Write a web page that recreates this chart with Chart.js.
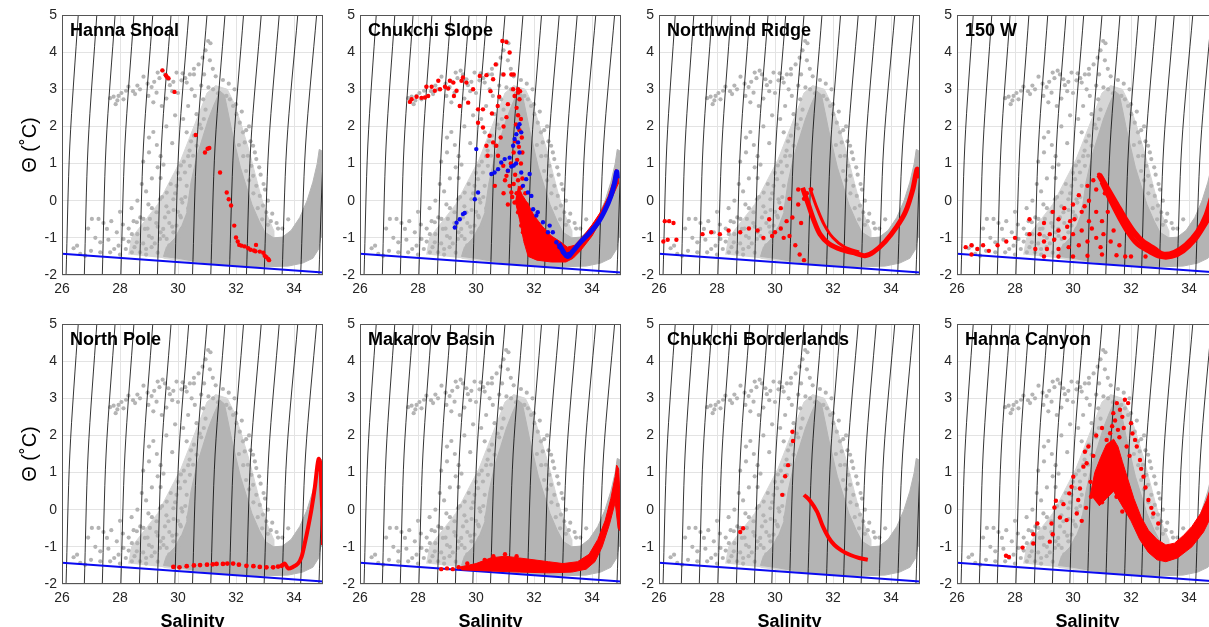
<!DOCTYPE html>
<html>
<head>
<meta charset="utf-8">
<script src="https://cdn.jsdelivr.net/npm/chart.js@4.4.0/dist/chart.umd.min.js"></script>
<style>
  body { margin: 0; width: 1209px; height: 627px; overflow: hidden; background: #fff; position: relative; font-family: "Liberation Sans", Arial, sans-serif; }
  canvas { position: absolute; }
  .ttl { position: absolute; font-weight: bold; font-size: 18px; color: #000; white-space: nowrap; }
</style>
</head>
<body>
<script>
// --- axes ---
const salTicks = [26, 28, 30, 32, 34];
const thetaTicks = [-2, -1, 0, 1, 2, 3, 4, 5];

// --- isopycnals: salinity where each line meets theta = -2, 1.5 and 5 ---
const isoSalBottom = [26.14, 26.77, 27.39, 28.03, 28.67, 29.29, 29.89, 30.50, 31.13, 31.77, 32.36, 32.97, 33.59, 34.23, 34.86];
const isoSalMid    = [26.27, 26.90, 27.52, 28.17, 28.81, 29.43, 30.03, 30.65, 31.28, 31.92, 32.51, 33.13, 33.75, 34.40, 35.03];
const isoSalTop    = [26.56, 27.20, 27.83, 28.48, 29.13, 29.76, 30.37, 31.00, 31.62, 32.26, 32.87, 33.49, 34.13, 34.78, 35.42];

// --- freezing line ---
const freezeSal = [26, 35];
const freezeTheta = [-1.43, -1.93];

// --- all profiles (grey, same in every panel) ---
// loosely covered part of the cloud
const grayHaze = [[28.3,-1.45],[28.4,-1.0],[28.8,-0.6],[29.3,-0.1],[29.7,0.5],[30.1,1.1],[30.4,1.7],[30.7,2.3],[31.0,2.9],[31.3,3.1],[31.7,3.0],[31.95,2.6],[32.2,2.0],[32.45,1.35],[32.65,0.75],[32.85,0.15],[33.05,-0.35],[33.3,-0.8],[33.3,-1.7],[31.0,-1.7],[29.5,-1.55]];
// solid part of the cloud
const grayCore = [[30.3,-0.3],[30.45,0.5],[30.65,1.2],[30.85,1.7],[31.05,2.2],[31.25,2.6],[31.45,2.95],[31.6,2.85],[31.72,2.4],[31.85,1.9],[32.0,1.4],[32.15,0.9],[32.35,0.4],[32.55,-0.1],[32.8,-0.55],[33.0,-0.85],[33.3,-1.0],[33.6,-0.98],[33.9,-0.8],[34.2,-0.45],[34.45,0.0],[34.65,0.5],[34.8,1.0],[34.87,1.38],[34.95,1.35],[35.0,1.1],[35.0,-0.95],[34.92,-1.0],[34.85,-1.3],[34.65,-1.55],[34.3,-1.68],[33.8,-1.76],[33.0,-1.78],[32.0,-1.75],[31.2,-1.7],[30.5,-1.62],[30.0,-1.55],[29.5,-1.5],[29.6,-1.25],[29.9,-1.0],[30.1,-0.7]];
const graySparse = [[31.04,4.30],[31.12,4.24],[31.10,3.78],[30.71,3.67],[30.41,3.40],[30.16,3.43],[30.12,3.24],[29.72,3.11],[29.47,3.50],[29.36,3.30],[29.18,3.20],[29.09,3.06],[29.26,2.91],[29.44,2.55],[28.98,2.82],[28.69,3.00],[28.52,2.87],[28.29,3.07],[28.21,2.96],[27.95,2.82],[27.78,2.80],[27.66,2.76],[27.91,2.70],[28.12,2.73],[28.81,3.34],[29.67,3.27],[29.84,3.20],[30.30,3.18],[30.47,3.00],[30.58,2.82],[30.35,2.55],[30.18,2.20],[30.30,1.84],[30.64,2.33],[30.89,2.20],[30.87,2.73],[31.21,3.00],[31.38,2.89],[31.67,2.82],[31.79,2.73],[31.90,2.55],[32.01,2.33],[32.13,2.10],[32.24,1.84],[32.30,1.57],[32.41,1.21],[32.53,0.94],[32.59,0.67],[32.70,0.40],[32.82,0.13],[32.93,-0.13],[33.04,-0.31],[32.70,1.12],[32.59,1.48],[29.60,2.00],[29.27,1.50],[29.50,0.97],[29.40,0.61],[28.90,0.25],[28.98,-0.10],[28.47,-0.55],[28.10,-0.64],
  [26.52,-1.21],[26.40,-1.28],[27.03,-0.49],[27.26,-0.49],[27.43,-0.60],[27.15,-1.00],[27.32,-1.12],[27.55,-0.76],[27.89,-0.85],[28.12,-1.03],[27.95,-1.21],[28.41,-0.90],[28.58,-1.12],[28.86,-0.76],[29.03,-0.49],[29.26,-0.31],[28.81,-0.49],[28.58,-0.58],[29.49,-0.76],[29.38,-1.03],[29.09,-1.25],[29.61,-1.39],[29.84,-1.21],[29.61,-1.03],[29.84,-0.85],[29.95,-0.67],[30.07,-0.40],[29.67,-0.31],[29.38,0.04],[29.61,0.22],[29.84,0.04],[29.95,0.40],[30.12,0.04],[30.30,0.40],[30.24,0.76],[30.41,0.94],[30.52,1.21],[30.64,1.48],[30.07,0.58],[27.66,-1.39],[27.32,-1.39],[26.80,-1.48],[26.63,-1.43],[28.69,-1.39],[28.41,-1.39],
  [28.90,-1.30],[29.20,-1.15],[29.50,-0.95],[29.80,-0.70],[30.10,-0.45],[30.35,-0.20],[28.60,-0.90],[28.95,-0.75],[29.25,-0.60],[29.55,-0.45],[29.85,-0.25],[30.15,-0.05],[30.45,1.60],[30.80,1.95],[30.95,2.45],[31.05,3.05],[30.90,3.40],[28.80,1.05],[29.00,1.30],[29.15,1.85],[32.85,0.70],[33.00,0.30],[33.20,-0.55],[33.45,-0.75],[33.10,-0.65],
  [28.2,-1.3],[28.5,-1.25],[28.8,-1.15],[29.1,-1.0],[29.4,-0.85],[29.7,-0.6],[30.0,-0.3],[30.25,0.1],[28.3,-0.75],[28.7,-0.45],[29.1,-0.2],[29.45,0.1],[29.75,0.45],[30.0,0.75],[30.2,1.05],[30.4,1.35],[28.9,-1.45],[29.3,-1.4],[29.7,-1.2],[30.0,-1.0],[30.2,-0.7],[29.0,-0.95],[29.3,-0.7],[29.6,-0.15],[29.9,0.2],[30.1,0.95],[30.35,1.2],[30.55,1.75],[30.75,2.05],
  [27.8,-1.3],[28.0,-1.45],[28.3,-1.1],[27.6,-1.05],[27.0,-1.35],[26.9,-0.75],[27.7,-0.55],[28.0,-0.3],[28.4,-0.2],[28.6,0.0],[28.75,0.45],[29.1,0.6],[29.3,0.9],[29.0,1.7],[29.4,1.2],[29.8,1.55],[29.9,2.3],[29.6,2.75],[30.0,2.9],[30.55,3.4],[30.8,3.1],
  [32.0,2.6],[32.1,1.5],[32.25,1.2],[32.35,0.8],[32.45,0.55],[32.6,0.2],[32.75,-0.2],[32.9,-0.5],[32.2,2.4],[32.35,1.9],[32.5,1.6],[32.65,1.3],[32.8,0.9],[32.95,0.45],[33.1,0.0],[33.25,-0.35],[33.4,-0.6],[33.6,-0.75],[33.8,-0.5],[32.45,2.0],[31.95,3.0],[31.75,3.15],[31.55,3.25],[31.3,3.35],[31.2,3.55],
  [30.95,4.05],[30.85,3.85],[30.55,3.55],[30.25,3.3],[29.95,3.45],[29.55,3.4],[29.3,3.45],[28.95,3.15],[28.6,3.1],[28.45,2.95],[28.05,2.9],[27.85,2.6],[29.15,2.65],[29.8,2.95]];

// --- Hanna Shoal ---
const hannaShoalRed = [[29.46,3.51],[29.58,3.38],[29.61,3.34],[29.67,3.30],[29.88,2.93],[30.61,1.77],[30.93,1.30],[31.02,1.40],[31.08,1.42],[31.45,0.76],[31.68,0.22],[31.75,0.04],[31.83,-0.13],[31.94,-0.67],[32.00,-0.99],[32.06,-1.10],[32.11,-1.19],[32.19,-1.21],[32.30,-1.23],[32.42,-1.28],[32.50,-1.32],[32.62,-1.34],[32.67,-1.36],[32.69,-1.19],[32.82,-1.37],[32.94,-1.40],[32.99,-1.48],[33.05,-1.52],[33.11,-1.57],[33.14,-1.60]];

// --- Chukchi Slope ---
const chukchiSlopeRed = [[27.72,2.66],[27.78,2.73],[27.95,2.80],[28.12,2.77],[28.24,2.78],[28.35,2.82],[28.29,3.07],[28.47,3.07],[28.58,2.96],[28.70,3.23],[28.76,3.00],[28.93,3.07],[29.04,3.02],[29.10,3.23],[29.22,3.18],[29.24,2.82],[29.33,2.96],[29.44,2.55],[29.50,3.23],[29.55,3.32],[29.67,3.18],[29.73,2.64],[29.90,3.00],[30.13,3.36],[30.36,3.38],[30.59,3.27],[30.68,3.67],[30.91,4.30],[31.05,4.27],[31.16,3.99],[31.22,3.40],[31.28,3.00],[31.33,2.82],[31.45,2.91],[31.50,2.73],[30.07,2.46],[30.24,2.46],[30.07,2.10],[30.24,1.97],[30.47,1.75],[30.59,1.57],[30.70,1.48],[30.76,1.21],[30.36,1.48],[30.40,1.21],[30.94,0.94],[31.05,0.67],[31.16,0.40],[31.22,0.22],[31.33,-0.05],[31.45,-0.31],[31.56,-0.67],[31.62,-0.85],[31.73,-1.12],[31.85,-1.39],
  [31.40,2.50],[31.45,2.30],[31.55,2.20],[31.38,2.05],[31.50,1.90],[31.58,1.70],[31.35,1.60],[31.48,1.45],[31.60,1.30],[31.30,1.30],[31.42,1.10],[31.55,1.00],[31.20,1.00],[31.10,0.80],[31.35,0.70],[31.00,0.55],[30.85,1.70],[30.95,2.00],[31.10,2.60],[30.80,2.80],[30.95,3.40],[31.30,3.40],[31.45,3.00],[31.52,2.95],[30.50,2.95],[30.75,2.55],[30.55,2.35],[31.05,2.25],[30.65,0.40],[30.95,0.20],[31.10,-0.10],
  [31.45,0.55],[31.55,0.35],[31.3,0.45],[31.25,0.1],[31.4,0.2],[31.6,0.6],[31.7,0.2],[31.75,-0.1]];
const chukchiSlopeRedBand = [[31.45,0.4],[31.6,0.15],[31.8,-0.1],[32.0,-0.4],[32.3,-0.7],[32.6,-0.95],[32.9,-1.1],[33.15,-1.25],[33.4,-1.2],[33.7,-0.95],[34.0,-0.65],[34.3,-0.3],[34.55,0.1],[34.72,0.5],[34.82,0.85],[34.9,0.75],[34.9,0.45],[34.7,0.1],[34.4,-0.4],[34.0,-0.95],[33.6,-1.35],[33.35,-1.55],[33.1,-1.65],[32.6,-1.65],[32.1,-1.6],[31.8,-1.5],[31.65,-1.1],[31.5,-0.5],[31.35,0.0]];
const chukchiSlopeBlue = [[29.27,-0.72],[29.33,-0.59],[29.44,-0.50],[29.55,-0.36],[29.61,-0.33],[29.96,0.04],[30.07,0.22],[30.01,1.39],[30.53,0.72],[30.64,0.76],[30.76,0.85],[30.87,1.03],[30.99,1.12],[31.10,0.81],[31.16,1.16],[31.28,1.48],[31.33,1.66],[31.39,1.79],[31.45,1.97],[31.50,2.06],[31.45,1.57],[31.56,1.84],[31.50,1.30],[31.56,0.76],[31.62,0.40],[31.73,0.58],[31.79,0.22],[31.85,0.72],[31.91,0.13],[31.97,-0.23],[32.08,-0.40],[32.13,-0.31],[32.31,-0.58],[32.48,-0.85],[32.54,-0.67],[32.65,-0.85],[32.77,-1.12],[32.88,-1.25],[33.00,-1.39],[33.11,-1.48],[33.20,-1.43],[31.38,1.00],[31.30,0.95],[31.22,0.92]];
const chukchiSlopeBlueLine = [[32.85,-1.15],[33.05,-1.42],[33.18,-1.5],[33.35,-1.35],[33.6,-1.12],[33.9,-0.88],[34.2,-0.6],[34.45,-0.25],[34.65,0.12],[34.78,0.48],[34.85,0.78],[34.87,0.6]];

// --- Northwind Ridge ---
const northwindRed = [[26.2,-0.55],[26.35,-0.55],[26.5,-0.6],[26.15,-1.1],[26.3,-1.05],[26.6,-1.05],[27.5,-0.9],[27.8,-0.85],[28.1,-0.9],[28.4,-0.8],[28.8,-0.85],[29.1,-0.75],[29.4,-0.8],[29.8,-0.5],[30.2,-0.2],[30.5,0.05],[30.8,0.3],[29.6,-1.0],[30.0,-0.85],[30.4,-0.55],[30.8,-0.1],[31.1,0.2],[30.2,-0.75],[30.5,-0.95],[30.7,-1.2],[30.85,-1.45],[31.0,-1.6],[29.9,-0.95],[30.6,-0.45],[31.0,0.05],[31.25,0.3],[30.3,-1.0],[30.9,-0.6]];
const northwindRedLine = [[30.95,0.35],[31.15,-0.1],[31.35,-0.55],[31.55,-0.9],[31.85,-1.15],[32.3,-1.32],[32.8,-1.42],[33.1,-1.48],[33.4,-1.38],[33.8,-1.1],[34.2,-0.7],[34.5,-0.3],[34.75,0.3],[34.9,0.85],[34.95,0.6]];
const northwindRedLine2 = [[31.2,0.35],[31.45,-0.2],[31.7,-0.65],[32.0,-1.0],[32.4,-1.25],[32.9,-1.38]];

// --- 150 W ---
const w150Red = [[26.3,-1.25],[26.5,-1.2],[26.7,-1.3],[26.9,-1.2],[27.1,-1.35],[26.5,-1.45],[27.4,-1.2],[27.7,-1.1],[28.0,-1.0],
  [28.5,-0.5],[29.0,-0.6],[29.5,-0.5],[30.0,-0.1],[30.5,0.4],[30.9,0.7],
  [28.5,-0.9],[28.85,-0.9],[29.2,-0.9],[29.5,-0.8],[29.8,-0.7],[30.05,-0.5],[30.3,-0.3],[30.55,0.0],[30.8,0.3],
  [29.0,-1.1],[29.35,-1.05],[29.7,-1.0],[30.0,-0.9],[30.3,-0.8],[30.55,-0.55],[30.8,-0.3],[31.1,0.2],
  [28.7,-1.3],[29.1,-1.3],[29.5,-1.3],[29.85,-1.25],[30.2,-1.2],[30.5,-1.1],[30.8,-1.0],
  [29.0,-1.5],[29.5,-1.5],[30.0,-1.5],[30.5,-1.48],[31.0,-1.45],[31.5,-1.47],[32.0,-1.5],[32.5,-1.5],
  [29.3,-0.3],[29.7,-0.2],[30.2,0.15],[30.7,0.55],[31.0,0.6],[31.2,-0.3],[31.4,-0.8],[31.6,-1.2],[31.8,-1.5],
  [29.9,-0.55],[30.4,-0.15],[30.65,-0.75],[31.0,-0.55],[31.05,-0.9],[30.95,-1.25],[31.3,-1.1]];
const w150RedLine = [[30.9,0.7],[31.2,0.3],[31.5,-0.1],[31.8,-0.5],[32.1,-0.85],[32.4,-1.1],[32.8,-1.3],[33.1,-1.45],[33.5,-1.4],[33.9,-1.2],[34.3,-0.85],[34.6,-0.4],[34.8,0.1]];
const w150RedLine2 = [[31.0,0.5],[31.3,0.0],[31.6,-0.45],[31.9,-0.85],[32.2,-1.15],[32.6,-1.35],[33.0,-1.5],[33.4,-1.5],[33.8,-1.35],[34.2,-1.05],[34.5,-0.7],[34.8,-0.3]];

// --- North Pole ---
const northPoleRed = [[29.84,-1.54],[30.05,-1.55],[30.3,-1.52],[30.55,-1.5],[30.76,-1.49],[31.0,-1.48],[31.2,-1.47],[31.33,-1.46],[31.55,-1.46],[31.7,-1.45],[31.9,-1.45],[32.1,-1.48],[32.36,-1.51],[32.6,-1.52],[32.82,-1.54],[33.05,-1.55],[33.28,-1.55],[33.45,-1.53],[33.57,-1.51]];
const northPoleRedLine = [[33.57,-1.51],[33.68,-1.45],[33.8,-1.58],[33.97,-1.54],[34.14,-1.45],[34.26,-1.27],[34.37,-0.91],[34.49,-0.46],[34.6,0.0],[34.72,0.61],[34.8,1.15],[34.85,1.37],[34.91,1.24],[34.94,0.61],[34.98,-0.19],[35.0,-0.95]];

// --- Makarov Basin ---
const makarovRed = [[28.8,-1.6],[29.0,-1.58],[29.2,-1.6],[29.4,-1.55],[30.3,-1.35],[30.6,-1.25],[31.0,-1.2],[31.4,-1.25],[29.7,-1.45]];
const makarovRedBand = [[29.4,-1.55],[30.0,-1.45],[30.5,-1.3],[31.0,-1.25],[31.5,-1.3],[32.0,-1.35],[32.5,-1.4],[33.0,-1.45],[33.5,-1.4],[33.9,-1.2],[34.2,-0.8],[34.45,-0.3],[34.65,0.3],[34.8,0.9],[34.85,1.2],[34.92,1.1],[35.0,-0.3],[35.0,-0.6],[34.9,-0.5],[34.8,0.2],[34.6,-0.4],[34.35,-1.0],[34.1,-1.4],[33.8,-1.6],[33.3,-1.68],[32.5,-1.7],[31.5,-1.68],[30.5,-1.65],[29.5,-1.62]];

// --- Chukchi Borderlands ---
const borderlandsRed = [[30.6,2.1],[30.62,1.85],[30.45,1.2],[30.35,0.9],[30.25,0.4],[28.9,-0.5],[28.8,-0.6]];
const borderlandsRedLine = [[31.0,0.4],[31.2,0.25],[31.45,-0.05],[31.65,-0.45],[31.85,-0.75],[32.05,-0.95],[32.3,-1.1],[32.6,-1.22],[32.9,-1.3],[33.2,-1.35]];

// --- Hanna Canyon ---
const hannaCanyonRed = [[27.69,-1.24],[27.79,-1.27],[28.26,-1.02],[28.63,-0.91],[28.63,-0.66],[28.77,-0.37],[29.20,-0.86],[29.30,-0.66],[29.26,-0.37],[29.36,0.06],[29.41,0.24],[29.55,-0.21],[29.67,0.15],[29.78,-0.28],[29.87,0.44],[29.95,0.62],[30.01,0.89],[30.13,-0.10],[30.18,0.26],[30.24,0.57],[30.36,1.16],[30.41,1.56],[30.47,1.25],[30.53,1.70],[30.93,0.80],[31.16,1.88],[31.28,2.06],[31.39,2.60],[31.51,2.87],[31.62,2.69],[31.79,2.96],[31.90,2.87],[32.00,2.33],[32.14,1.88],[32.20,1.70],[32.31,1.34],[32.43,0.89],[32.60,0.26],[32.77,-0.10],[32.94,-0.37],[30.30,-0.30],[30.45,0.05],[30.62,0.35],[30.80,2.00],[31.00,2.20],[31.45,2.40],[31.70,2.50],[32.05,2.05],[32.35,1.10],[32.50,0.60],[32.70,0.05],
  [31.35,2.25],[31.55,2.15],[31.6,1.95],[31.75,2.2],[31.85,1.7],[31.95,1.45],[30.7,1.45],[30.6,0.75],[30.8,0.5],[31.0,0.2],[31.2,0.45],[31.5,0.35],[31.7,-0.05]];
const hannaCanyonRedBand = [[30.6,0.4],[30.75,1.0],[30.95,1.4],[31.15,1.75],[31.4,1.9],[31.55,1.7],[31.7,1.3],[31.9,0.8],[32.1,0.3],[32.35,-0.2],[32.6,-0.55],[32.9,-0.8],[33.2,-0.95],[33.5,-0.9],[33.8,-0.7],[34.1,-0.45],[34.4,-0.1],[34.6,0.25],[34.75,0.6],[34.75,-0.2],[34.5,-0.6],[34.1,-1.0],[33.6,-1.3],[33.2,-1.4],[32.9,-1.35],[32.6,-1.15],[32.3,-0.8],[32.0,-0.3],[31.7,0.1],[31.4,0.5],[31.15,0.3],[30.9,0.1]];

const panelNames = ['Hanna Shoal', 'Chukchi Slope', 'Northwind Ridge', '150 W', 'North Pole', 'Makarov Basin', 'Chukchi Borderlands', 'Hanna Canyon'];

// plot-area layout in page pixels
const colLeft = [62, 360, 659, 957];
const rowTop = [15, 324];
const plotW = 261, plotH = 260;
const padL = 60, padT = 16, padR = 16, padB = 60;

const GRAY = '#b4b4b4';
const HAZE = '#d6d6d6';
const RED = '#ff0000';
const BLUE = '#0a0af0';

const pts = arr => arr.map(p => ({ x: p[0], y: p[1] }));

const scatterSet = (arr, color, order, r) => ({
    data: pts(arr), showLine: false, pointRadius: r || 2.2, pointBackgroundColor: color,
    pointBorderWidth: 0, order: order, clip: 0
});
const lineSet = (arr, color, order, w) => ({
    data: pts(arr), showLine: true, borderColor: color, borderWidth: w, pointRadius: 0,
    tension: 0.3, order: order, clip: 0
});
const bandSet = (arr, color, order) => ({
    data: pts(arr), showLine: true, fill: 'shape', backgroundColor: color, borderColor: color,
    borderWidth: 1, pointRadius: 0, order: order, clip: 0
});

// red / blue layers for each panel
const panelLayers = [
    [scatterSet(hannaShoalRed, RED, 2)],
    [bandSet(chukchiSlopeRedBand, RED, 3), scatterSet(chukchiSlopeRed, RED, 2),
     lineSet(chukchiSlopeBlueLine, BLUE, 1, 5), scatterSet(chukchiSlopeBlue, BLUE, 1)],
    [lineSet(northwindRedLine, RED, 2, 5), lineSet(northwindRedLine2, RED, 2, 3), scatterSet(northwindRed, RED, 2)],
    [lineSet(w150RedLine, RED, 2, 6), lineSet(w150RedLine2, RED, 2, 5), scatterSet(w150Red, RED, 2)],
    [lineSet(northPoleRedLine, RED, 2, 4), scatterSet(northPoleRed, RED, 2, 2.4)],
    [bandSet(makarovRedBand, RED, 3), scatterSet(makarovRed, RED, 2)],
    [lineSet(borderlandsRedLine, RED, 2, 4), scatterSet(borderlandsRed, RED, 2)],
    [bandSet(hannaCanyonRedBand, RED, 3), scatterSet(hannaCanyonRed, RED, 2)]
];

// frame round the axes
const framePlugin = {
    id: 'frame',
    afterDatasetsDraw(chart) {
        const a = chart.chartArea;
        const ctx = chart.ctx;
        ctx.save();
        ctx.strokeStyle = '#555';
        ctx.lineWidth = 1;
        ctx.strokeRect(a.left + 0.5, a.top + 0.5, a.right - a.left - 1, a.bottom - a.top - 1);
        ctx.restore();
    }
};

function makePanel(i) {
    const col = i % 4, row = Math.floor(i / 4);
    const canvas = document.createElement('canvas');
    canvas.width = padL + plotW + padR;
    canvas.height = padT + plotH + padB;
    canvas.style.left = (colLeft[col] - padL) + 'px';
    canvas.style.top = (rowTop[row] - padT) + 'px';
    document.body.appendChild(canvas);

    const ttl = document.createElement('div');
    ttl.className = 'ttl';
    ttl.textContent = panelNames[i];
    ttl.style.left = (colLeft[col] + 8) + 'px';
    ttl.style.top = (rowTop[row] + 5) + 'px';
    document.body.appendChild(ttl);

    const datasets = [];
    datasets.push(bandSet(grayHaze, HAZE, 10));
    datasets.push(bandSet(grayCore, GRAY, 9));
    datasets.push(scatterSet(graySparse, GRAY, 8, 2.1));
    isoSalBottom.forEach((s, k) => {
        datasets.push({
            data: [{ x: s, y: -2 }, { x: isoSalMid[k], y: 1.5 }, { x: isoSalTop[k], y: 5 }],
            showLine: true, borderColor: '#000', borderWidth: 0.8, pointRadius: 0, tension: 0.3, order: 6, clip: 0
        });
    });
    datasets.push({
        data: freezeSal.map((s, k) => ({ x: s, y: freezeTheta[k] })),
        showLine: true, borderColor: BLUE, borderWidth: 2, pointRadius: 0, order: 5, clip: 0
    });
    panelLayers[i].forEach(d => datasets.push(d));

    const tickFont = { family: '"Liberation Sans", Arial, sans-serif', size: 14 };

    new Chart(canvas, {
        type: 'line',
        data: { datasets: datasets },
        options: {
            responsive: false,
            devicePixelRatio: 1,
            animation: false,
            events: [],
            layout: { padding: { left: 0, top: padT, right: padR, bottom: 0 } },
            plugins: { legend: { display: false }, tooltip: { enabled: false } },
            scales: {
                x: {
                    type: 'linear', min: 26, max: 35,
                    afterBuildTicks: s => { s.ticks = salTicks.map(v => ({ value: v })); },
                    afterFit: s => { s.height = padB; },
                    grid: { color: '#e3e3e3', drawTicks: false },
                    border: { display: false },
                    ticks: { font: tickFont, color: '#262626', padding: 6, maxRotation: 0 },
                    title: {
                        display: row === 1, text: 'Salinity', color: '#000',
                        font: { family: '"Liberation Sans", Arial, sans-serif', size: 18, weight: 'bold' },
                        padding: { top: 0, bottom: 11 }
                    }
                },
                y: {
                    type: 'linear', min: -2, max: 5,
                    afterBuildTicks: s => { s.ticks = thetaTicks.map(v => ({ value: v })); },
                    afterFit: s => { s.width = padL; },
                    grid: { color: '#e3e3e3', drawTicks: false },
                    border: { display: false },
                    ticks: { font: tickFont, color: '#262626', padding: 5 },
                    title: {
                        display: col === 0, text: 'Θ (˚C)', color: '#000',
                        font: { family: '"Liberation Sans", Arial, sans-serif', size: 20 },
                        padding: { top: 16, bottom: 0 }
                    }
                }
            }
        },
        plugins: [framePlugin]
    });
}

for (let i = 0; i < 8; i++) makePanel(i);
</script>
</body>
</html>
